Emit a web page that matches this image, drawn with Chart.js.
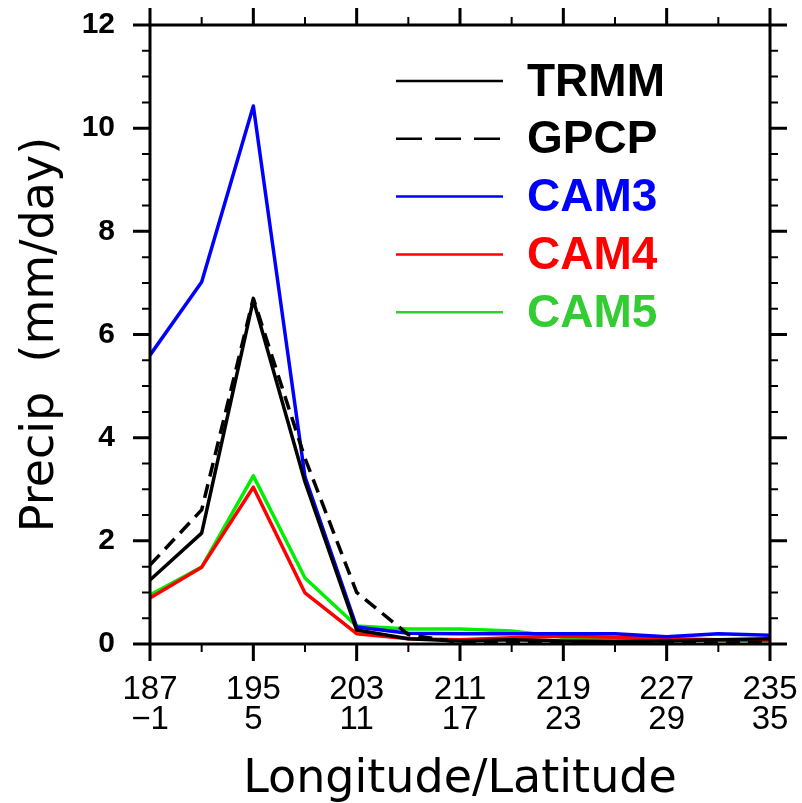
<!DOCTYPE html>
<html>
<head>
<meta charset="utf-8">
<script src="https://cdn.jsdelivr.net/npm/chart.js@4"></script>
<style>
  html, body { margin: 0; padding: 0; background: #fff; }
  #wrap { width: 802px; height: 803px; }
</style>
</head>
<body>
<div id="wrap"><canvas id="precipChart" width="802" height="803"></canvas></div>
<script>
// Longitude of each sample point
const lon = [187, 191, 195, 199, 203, 207, 211, 215, 219, 223, 227, 231, 235];

// Tick labels: longitude on first line, latitude on second
const lonTicks = [187, 195, 203, 211, 219, 227, 235];
const latTicks = ['\u22121', '5', '11', '17', '23', '29', '35'];

// Precip (mm/day)
const trmm = [1.24, 2.15, 6.67, 3.14, 0.27, 0.10, 0.06, 0.08, 0.06, 0.05, 0.06, 0.08, 0.10];
const gpcp = [1.53, 2.60, 6.70, 3.60, 1.00, 0.18, 0.03, 0.03, 0.03, 0.02, 0.02, 0.02, 0.03];
const cam3 = [5.60, 7.02, 10.43, 3.24, 0.33, 0.21, 0.20, 0.20, 0.20, 0.20, 0.14, 0.20, 0.17];
const cam4 = [0.89, 1.49, 3.04, 0.99, 0.20, 0.10, 0.08, 0.12, 0.15, 0.13, 0.10, 0.08, 0.07];
const cam5 = [0.95, 1.49, 3.26, 1.28, 0.35, 0.29, 0.29, 0.25, 0.13, 0.08, 0.07, 0.07, 0.07];

const seriesNames = ['TRMM', 'GPCP', 'CAM3', 'CAM4', 'CAM5'];

function pts(vals) {
    return vals.map((v, i) => ({ x: lon[i], y: v }));
}

// frame + outward major/minor ticks on all four sides, plus legend
const framePlugin = {
    id: 'frame',
    afterDraw(chart) {
        const ctx = chart.ctx;
        const a = chart.chartArea;
        const xs = chart.scales.x;
        const ys = chart.scales.y;
        const major = 17, minor = 8;
        ctx.save();
        ctx.strokeStyle = '#000';
        ctx.lineCap = 'butt';

        // x ticks, every 4 deg, major every 8
        for (let v = 187; v <= 235; v += 4) {
            const px = xs.getPixelForValue(v);
            const len = ((v - 187) % 8 === 0) ? major : minor;
            ctx.lineWidth = len === major ? 3 : 2;
            ctx.beginPath();
            ctx.moveTo(px, a.bottom); ctx.lineTo(px, a.bottom + len);
            ctx.moveTo(px, a.top); ctx.lineTo(px, a.top - len);
            ctx.stroke();
        }
        // y ticks, every 0.5, major every 2
        for (let v = 0; v <= 12; v += 0.5) {
            const py = ys.getPixelForValue(v);
            const len = (v % 2 === 0) ? major : minor;
            ctx.lineWidth = len === major ? 3 : 2;
            ctx.beginPath();
            ctx.moveTo(a.left, py); ctx.lineTo(a.left - len, py);
            ctx.moveTo(a.right, py); ctx.lineTo(a.right + len, py);
            ctx.stroke();
        }
        // box
        ctx.lineWidth = 3;
        ctx.strokeRect(a.left, a.top, a.right - a.left, a.bottom - a.top);

        // legend inside the plot
        const textColors = ['#000000', '#000000', '#0000ff', '#ff0000', '#33cc33'];
        const lineColors = ['#000000', '#000000', '#0000ff', '#ff0000', '#33cc33'];
        ctx.font = 'bold 46px "Liberation Sans", Arial, sans-serif';
        ctx.textBaseline = 'middle';
        ctx.textAlign = 'left';
        chart.data.datasets.forEach((ds, i) => {
            const y = a.top + 56 + i * 57.8;
            ctx.beginPath();
            ctx.lineWidth = 2.5;
            ctx.strokeStyle = lineColors[i];
            ctx.setLineDash(i === 1 ? [26, 13] : []);
            ctx.moveTo(a.left + 246, y);
            ctx.lineTo(a.left + 353, y);
            ctx.stroke();
            ctx.setLineDash([]);
            ctx.fillStyle = textColors[i];
            ctx.fillText(ds.label, a.left + 377, y + 2);
        });
        ctx.restore();
    }
};

const ctx = document.getElementById('precipChart').getContext('2d');
new Chart(ctx, {
    type: 'line',
    data: {
        datasets: [
            { label: seriesNames[0], data: pts(trmm), borderColor: '#000000' },
            { label: seriesNames[1], data: pts(gpcp), borderColor: '#000000', borderDash: [14, 8] },
            { label: seriesNames[2], data: pts(cam3), borderColor: '#0000ff' },
            { label: seriesNames[3], data: pts(cam4), borderColor: '#ff0000' },
            { label: seriesNames[4], data: pts(cam5), borderColor: '#00ee00' }
        ]
    },
    options: {
        responsive: false,
        animation: false,
        layout: { padding: { top: 25, right: 32, left: 0, bottom: 0 } },
        elements: {
            line: { borderWidth: 3.5, tension: 0, fill: false, borderJoinStyle: 'round' },
            point: { radius: 0 }
        },
        plugins: {
            legend: { display: false },
            tooltip: { enabled: false }
        },
        scales: {
            x: {
                type: 'linear',
                min: 187,
                max: 235,
                grid: { display: false, drawTicks: false },
                border: { display: false },
                afterFit: s => { s.height = 159; s.paddingLeft = 0; s.paddingRight = 0; },
                afterBuildTicks: s => { s.ticks = lonTicks.map(v => ({ value: v })); },
                ticks: {
                    autoSkip: false,
                    maxRotation: 0,
                    padding: 31,
                    color: '#000',
                    font: { family: '"Liberation Sans", Arial, sans-serif', size: 33, lineHeight: 0.91 },
                    callback: function(value) {
                        const i = lonTicks.indexOf(value);
                        return [String(value), latTicks[i]];
                    }
                },
                title: {
                    display: true,
                    text: 'Longitude/Latitude',
                    color: '#000',
                    padding: { top: 0, bottom: 0 },
                    font: { family: '"DejaVu Sans", sans-serif', size: 46, lineHeight: 1 }
                }
            },
            y: {
                min: 0,
                max: 12,
                grid: { display: false, drawTicks: false },
                border: { display: false },
                afterFit: s => { s.width = 150; s.paddingTop = 0; s.paddingBottom = 0; },
                ticks: {
                    stepSize: 2,
                    padding: 35,
                    color: '#000',
                    font: { family: '"Liberation Sans", Arial, sans-serif', size: 30, weight: 'bold' }
                },
                title: {
                    display: true,
                    text: 'Precip  (mm/day)',
                    color: '#000',
                    padding: { top: 18, bottom: 0 },
                    font: { family: '"DejaVu Sans", sans-serif', size: 46, lineHeight: 1 }
                }
            }
        }
    },
    plugins: [framePlugin]
});
</script>
</body>
</html>
